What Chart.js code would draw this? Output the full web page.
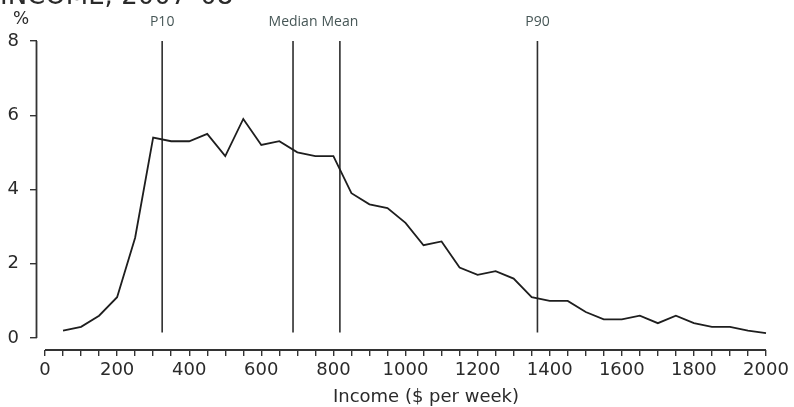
<!DOCTYPE html>
<html>
<head>
<meta charset="utf-8">
<script src="https://cdn.jsdelivr.net/npm/chart.js@4/dist/chart.umd.min.js"></script>
<style>
  html, body { margin: 0; padding: 0; background: #ffffff; }
  #wrap { width: 794px; height: 407px; position: relative; }
</style>
</head>
<body>
<div id="wrap"><canvas id="c" width="794" height="407"></canvas></div>
<script>
// ---- data ----
const titleText = "INCOME, 2007\u201308";
const incomeBins = [50,100,150,200,250,300,350,400,450,500,550,600,650,700,750,800,850,900,950,1000,
                    1050,1100,1150,1200,1250,1300,1350,1400,1450,1500,1550,1600,1650,1700,1750,1800,1850,1900,1950,2000];
const sharePct = [0.2,0.3,0.6,1.1,2.7,5.4,5.3,5.3,5.5,4.9,5.9,5.2,5.3,5.0,4.9,4.9,3.9,3.6,3.5,3.1,
                  2.5,2.6,1.9,1.7,1.8,1.6,1.1,1.0,1.0,0.7,0.5,0.5,0.6,0.4,0.6,0.4,0.3,0.3,0.2,0.13];
const markerNames = ["P10", "Median", "Mean", "P90"];
const markerValues = [325, 688, 818, 1366];
const xTickLabels = [0,200,400,600,800,1000,1200,1400,1600,1800,2000];
const xMinorStep = 50;
const yTickLabels = [0,2,4,6,8];
const yUnit = "%";
const xTitle = "Income ($ per week)";

// ---- build ----
const xTickValues = [];
for (let v = 0; v <= 2000; v += xMinorStep) xTickValues.push(v);

const ink = '#2a2a2a';
const datasets = [{
  data: incomeBins.map((x, i) => ({ x: x, y: sharePct[i] })),
  borderColor: '#1e1e1e', borderWidth: 1.8, pointRadius: 0, tension: 0, clip: false
}];
markerValues.forEach(v => {
  datasets.push({
    data: [{ x: v, y: 0.15 }, { x: v, y: 8 }],
    borderColor: '#2e2e2e', borderWidth: 1.6, pointRadius: 0, clip: false
  });
});

const decor = {
  id: 'decor',
  afterDraw(chart) {
    const ctx = chart.ctx;
    const xs = chart.scales.x, ys = chart.scales.y;
    const ca = chart.chartArea;
    ctx.save();
    ctx.strokeStyle = '#333';
    ctx.lineWidth = 1.8;
    // y axis line 0..8
    ctx.beginPath();
    ctx.moveTo(ca.left - 0.5, ys.getPixelForValue(0));
    ctx.lineTo(ca.left - 0.5, ys.getPixelForValue(8));
    ctx.stroke();
    // x axis line 0..2000
    ctx.beginPath();
    ctx.moveTo(xs.getPixelForValue(0), ca.bottom);
    ctx.lineTo(xs.getPixelForValue(2000), ca.bottom);
    ctx.stroke();
    // marker labels
    ctx.fillStyle = '#465656';
    ctx.font = '14px "Open Sans"';
    ctx.textAlign = 'center';
    ctx.textBaseline = 'middle';
    markerValues.forEach((v, i) => {
      ctx.fillText(markerNames[i], xs.getPixelForValue(v), 22);
    });
    // axis title
    ctx.fillStyle = ink;
    ctx.font = '18px "DejaVu Sans"';
    ctx.fillText(xTitle, 426, 397);
    // unit label
    ctx.font = '17px "DejaVu Sans"';
    ctx.textAlign = 'left';
    ctx.fillText(yUnit, 13, 20);
    // clipped title
    ctx.font = '26px "DejaVu Sans"';
    ctx.textBaseline = 'alphabetic';
    ctx.fillText(titleText, 0, 3.5);
    ctx.restore();
  }
};

new Chart(document.getElementById('c'), {
  type: 'line',
  data: { datasets: datasets },
  options: {
    responsive: false,
    animation: false,
    events: [],
    layout: { padding: { top: 41, right: 28, left: 0, bottom: 0 } },
    plugins: { legend: { display: false }, tooltip: { enabled: false }, title: { display: false } },
    scales: {
      x: {
        type: 'linear', min: -22.2, max: 2000,
        afterBuildTicks: s => { s.ticks = xTickValues.map(v => ({ value: v })); },
        afterFit: s => { s.height = 57; },
        border: { display: false },
        grid: { drawOnChartArea: false, drawTicks: true, tickLength: 6, color: '#333', lineWidth: 1.4 },
        ticks: {
          autoSkip: false, maxRotation: 0, padding: 4, color: ink,
          font: { family: 'DejaVu Sans', size: 18 },
          callback: v => xTickLabels.includes(v) ? String(v) : ''
        },
        title: { display: false }
      },
      y: {
        type: 'linear', min: -0.323, max: 8,
        afterBuildTicks: s => { s.ticks = yTickLabels.map(v => ({ value: v })); },
        afterFit: s => { s.width = 37; },
        border: { display: false },
        grid: { drawOnChartArea: false, drawTicks: true, tickLength: 7, color: '#333', lineWidth: 1.4 },
        ticks: { padding: 11, color: ink, font: { family: 'DejaVu Sans', size: 18 }, callback: v => String(v) }
      }
    }
  },
  plugins: [decor]
});
</script>
</body>
</html>
